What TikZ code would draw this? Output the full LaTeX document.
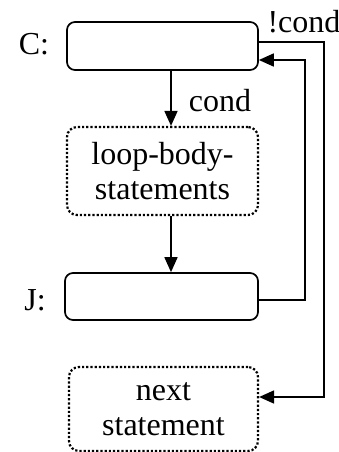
\documentclass[tikz,border=0pt]{standalone}
\usepackage{fontspec}
\setmainfont{Liberation Serif}
\usetikzlibrary{arrows.meta}
\begin{document}
\begin{tikzpicture}[x=1pt,y=-1pt,
  every node/.style={font=\fontsize{32}{35}\selectfont, inner sep=0pt},
  solidbox/.style={draw, line width=1.7pt, rounded corners=8pt},
  dotbox/.style={draw, line width=2.2pt, dash pattern=on 2.2pt off 2pt, rounded corners=10pt, align=center},
  arr/.style={line width=1.7pt, -{Triangle[length=15pt,width=13pt]}},
  ln/.style={line width=1.7pt}]
  \useasboundingbox (0,0) rectangle (339,452);

  % blocks
  \node[solidbox, minimum width=191pt, minimum height=48pt] (C) at (162.5,46) {};
  \node[dotbox, minimum width=191pt, minimum height=88pt] (L) at (162.5,171) {loop-body-\\statements};
  \node[solidbox, minimum width=193pt, minimum height=47pt] (J) at (161.5,296.5) {};
  \node[dotbox, minimum width=189pt, minimum height=84pt] (N) at (163.5,409) {next\\statement};

  % labels
  \node (lc) at (34,44) {C:};
  \node (lj) at (35,300) {J:};
  \node (cond) at (220,101) {cond};
  \node (ncond) at (304,22) {!cond};

  % routing columns
  \coordinate (ax) at (171,0);
  \coordinate (r1) at (324,0);
  \coordinate (r2) at (305,0);

  % flow
  \draw[arr] (C.south -| ax) -- (L.north -| ax);
  \draw[arr] (L.south -| ax) -- (J.north -| ax);
  \draw[arr] ([yshift=4pt]C.east) -- ([yshift=4pt]C.east -| r1) |- ([yshift=12pt]N.east);
  \draw[arr] ([yshift=-3.5pt]J.east) -- ([yshift=-3.5pt]J.east -| r2) |- ([yshift=-14pt]C.east);
\end{tikzpicture}
\end{document}
